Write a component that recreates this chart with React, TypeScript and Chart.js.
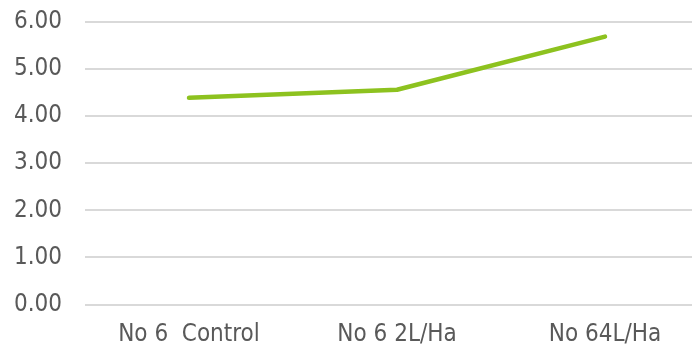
import React, { useEffect, useRef } from "react";
import { Chart, registerables } from "chart.js";

Chart.register(...registerables);

// Treatments along the category axis
const categories: string[] = ["No 6  Control", "No 6 2L/Ha", "No 64L/Ha"];
// Measured value per treatment
const values: number[] = [4.39, 4.56, 5.69];
// Value axis range
const yMin = 0;
const yMax = 6;
const yStep = 1;

const FONT = "'DejaVu Sans Condensed', 'DejaVu Sans', sans-serif";
const TEXT = "#595959";

export default function App() {
  const ref = useRef<HTMLCanvasElement | null>(null);

  useEffect(() => {
    if (!ref.current) return;
    const chart = new Chart(ref.current, {
      type: "line",
      data: {
        labels: categories,
        datasets: [
          {
            data: values,
            borderColor: "#8dc21f",
            borderWidth: 4.5,
            borderCapStyle: "round",
            borderJoinStyle: "round",
            pointRadius: 0,
            tension: 0,
            fill: false,
          },
        ],
      },
      options: {
        responsive: false,
        animation: false,
        devicePixelRatio: 1,
        layout: { padding: { top: 0, right: 3, left: 0, bottom: 0 } },
        plugins: { legend: { display: false }, tooltip: { enabled: false } },
        scales: {
          x: {
            type: "category",
            offset: true,
            grid: { display: false, drawTicks: false },
            border: { display: false },
            ticks: {
              color: TEXT,
              font: { family: FONT, size: 24 },
              padding: 16,
              maxRotation: 0,
              autoSkip: false,
            },
            afterFit: (scale: any) => {
              scale.height = 40.5;
            },
          },
          y: {
            min: yMin,
            max: yMax,
            grid: { color: "#d9d9d9", lineWidth: 2, drawTicks: false },
            border: { display: false },
            ticks: {
              stepSize: yStep,
              color: TEXT,
              font: { family: FONT, size: 24, lineHeight: 1.0 },
              padding: 23,
              callback: (v: any) => Number(v).toFixed(2),
            },
            afterFit: (scale: any) => {
              scale.width = 85;
            },
          },
        },
      },
      plugins: [
        {
          id: "plotTop",
          // keep the top gridline at a fixed offset from the canvas edge
          beforeLayout: () => {},
          afterLayout: (c: any) => {
            const area = c.chartArea;
            const desiredTop = 22;
            if (Math.abs(area.top - desiredTop) > 0.5) {
              const y = c.scales.y;
              const bottom = area.bottom;
              y.top = desiredTop;
              y.height = bottom - desiredTop;
              y.bottom = bottom;
              area.top = desiredTop;
              area.height = bottom - desiredTop;
              y.configure();
              y.generateTickLabels(y.ticks);
            }
          },
        },
      ],
    });
    return () => chart.destroy();
  }, []);

  return (
    <div
      style={{
        position: "fixed",
        left: 0,
        top: 0,
        width: 692,
        height: 345,
        overflow: "hidden",
        background: "#ffffff",
      }}
    >
      <canvas ref={ref} width={712} height={345} style={{ width: 712, height: 345 }} />
    </div>
  );
}
